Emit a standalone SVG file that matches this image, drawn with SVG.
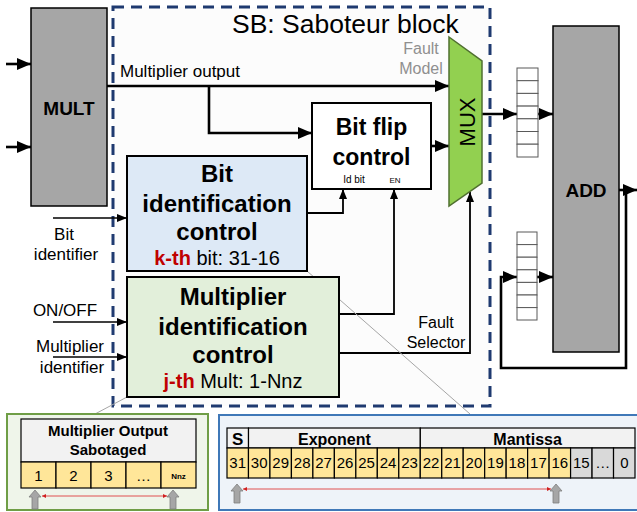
<svg xmlns="http://www.w3.org/2000/svg" width="637" height="512" viewBox="0 0 637 512">
  <style>
    text { font-family: "Liberation Sans", Arial, sans-serif; fill: #000; }
    .b { font-weight: bold; }
    .mid { text-anchor: middle; }
    .thick { fill: none; stroke: #000; stroke-width: 2.6; }
    .med { fill: none; stroke: #000; stroke-width: 1.8; }
    .thin { fill: none; stroke: #000; stroke-width: 1.5; }
    .reg { fill: #fff; stroke: #595959; stroke-width: 1; }
    .cellY { fill: #ffe699; stroke: #000; stroke-width: 1.2; }
    .cellG { fill: #d9d9d9; stroke: #000; stroke-width: 1.2; }
    .head { fill: #f2f2f2; stroke: #000; stroke-width: 1.2; }
    .gray-arrow { fill: #a6a6a6; stroke: #7f7f7f; stroke-width: 0.8; }
    .range { stroke: #e05050; stroke-width: 1; fill: none; }
    .zoomline { stroke: #a6a6a6; stroke-width: 1; fill: none; }
  </style>
  <defs>
    <marker id="big" markerUnits="userSpaceOnUse" markerWidth="14" markerHeight="12" refX="14" refY="6" orient="auto">
      <path d="M0,0 L14,6 L0,12 z" fill="#000"/>
    </marker>
    <marker id="small" markerUnits="userSpaceOnUse" markerWidth="10" markerHeight="8" refX="10" refY="4" orient="auto">
      <path d="M0,0 L10,4 L0,8 z" fill="#000"/>
    </marker>
    <marker id="red" markerUnits="userSpaceOnUse" markerWidth="4" markerHeight="4" refX="4" refY="2" orient="auto-start-reverse">
      <path d="M0,0 L4,2 L0,4 z" fill="#d02020"/>
    </marker>
  </defs>

  <rect width="637" height="512" fill="#fff"/>

  <!-- Saboteur block boundary -->
  <g id="sb-block">
    <rect x="113" y="7" width="377" height="399" fill="#fcfcfc" stroke="#1f3a70" stroke-width="3" stroke-dasharray="11 7"/>
    <text x="232" y="32.5" font-size="26.5">SB: Saboteur block</text>
  </g>

  <!-- Connectors -->
  <g id="connectors">
    <!-- multiplier inputs -->
    <path class="thick" d="M6,64 H31" marker-end="url(#big)"/>
    <path class="thick" d="M6,147 H31" marker-end="url(#big)"/>
    <!-- multiplier output to MUX and to bit flip control -->
    <path class="thick" d="M107,86 H449" marker-end="url(#big)"/>
    <path class="thick" d="M209,86 V133 H312" marker-end="url(#big)"/>
    <!-- bit flip control to MUX -->
    <path class="thick" d="M431,146 H449" marker-end="url(#big)"/>
    <!-- control signals -->
    <path class="med" d="M307,213 H343 V189" marker-end="url(#small)"/>
    <path class="med" d="M339,314 H394 V189" marker-end="url(#small)"/>
    <path class="med" d="M339,353 H470 V192" marker-end="url(#small)"/>
    <!-- external inputs -->
    <path class="thin" d="M53,218 H127" marker-end="url(#small)"/>
    <path class="thin" d="M53,322 H127" marker-end="url(#small)"/>
    <path class="thin" d="M53,357 H127" marker-end="url(#small)"/>
    <!-- MUX to adder path -->
    <path class="thick" d="M482,114 H517" marker-end="url(#big)"/>
    <path class="thick" d="M538,114 H553" marker-end="url(#big)"/>
    <path class="thick" d="M537,277 H553" marker-end="url(#big)"/>
    <path class="thick" d="M619,190 H637" marker-end="url(#big)"/>
    <path class="thick" d="M626,190 V368 H501 V277 H517" marker-end="url(#big)"/>
    <!-- detail callout lines -->
    <path class="zoomline" d="M307,271 L470,414"/>
    <path class="zoomline" d="M127,397 L95,414"/>
  </g>

  <!-- Multiplier -->
  <g id="mult">
    <rect x="31" y="8" width="76" height="198" fill="#a6a6a6" stroke="#000" stroke-width="1.5"/>
    <text class="b mid" x="69" y="115" font-size="19">MULT</text>
  </g>

  <!-- Bit flip control -->
  <g id="bit-flip-control">
    <rect x="312" y="103" width="119" height="86" fill="#fff" stroke="#000" stroke-width="2"/>
    <text class="b mid" x="371.5" y="135" font-size="23">Bit flip</text>
    <text class="b mid" x="371.5" y="165" font-size="23">control</text>
    <text class="mid" x="354" y="183" font-size="10">Id bit</text>
    <text class="mid" x="395" y="183" font-size="8">EN</text>
  </g>

  <!-- Fault model multiplexer -->
  <g id="mux">
    <path d="M449,37 L482,61 L482,183 L449,206 z" fill="#92d050" stroke="#4f6f2f" stroke-width="1.5"/>
    <text class="mid" transform="translate(475,122) rotate(-90)" font-size="22">MUX</text>
    <text class="mid" x="421" y="54" font-size="16" style="fill:#8f8f8f">Fault</text>
    <text class="mid" x="421" y="74" font-size="16" style="fill:#8f8f8f">Model</text>
  </g>

  <!-- Bit identification control -->
  <g id="bit-identification-control">
    <rect x="127" y="156" width="180" height="115" fill="#dde9f6" stroke="#000" stroke-width="2"/>
    <text class="b mid" x="217" y="182" font-size="24">Bit</text>
    <text class="b mid" x="217" y="212" font-size="24">identification</text>
    <text class="b mid" x="217" y="240" font-size="24">control</text>
    <text class="mid" x="217" y="265" font-size="20"><tspan class="b" style="fill:#c00000">k-th</tspan> bit: 31-16</text>
  </g>

  <!-- Multiplier identification control -->
  <g id="multiplier-identification-control">
    <rect x="127" y="277" width="212" height="120" fill="#e2efda" stroke="#000" stroke-width="2"/>
    <text class="b mid" x="233" y="305" font-size="24">Multiplier</text>
    <text class="b mid" x="233" y="335" font-size="24">identification</text>
    <text class="b mid" x="233" y="363" font-size="24">control</text>
    <text class="mid" x="233" y="388" font-size="20"><tspan class="b" style="fill:#c00000">j-th</tspan> Mult: 1-Nnz</text>
  </g>

  <!-- Signal labels -->
  <g id="labels">
    <text x="120" y="77" font-size="17">Multiplier output</text>
    <text class="mid" x="64" y="240" font-size="17">Bit</text>
    <text class="mid" x="66" y="260" font-size="17">identifier</text>
    <text class="mid" x="65" y="316" font-size="17">ON/OFF</text>
    <text class="mid" x="70" y="352" font-size="17">Multiplier</text>
    <text class="mid" x="72" y="373" font-size="17">identifier</text>
    <text class="mid" x="436" y="328" font-size="16">Fault</text>
    <text class="mid" x="436" y="348" font-size="16">Selector</text>
  </g>

  <!-- Input registers of the adder -->
  <g id="register-a">
    <rect class="reg" x="517" y="68" width="21" height="12.7"/>
    <rect class="reg" x="517" y="80.7" width="21" height="12.7"/>
    <rect class="reg" x="517" y="93.4" width="21" height="12.7"/>
    <rect class="reg" x="517" y="106.1" width="21" height="12.7"/>
    <rect class="reg" x="517" y="118.8" width="21" height="12.7"/>
    <rect class="reg" x="517" y="131.5" width="21" height="12.7"/>
    <rect class="reg" x="517" y="144.2" width="21" height="12.8"/>
  </g>
  <g id="register-b">
    <rect class="reg" x="517" y="232" width="20" height="12.6"/>
    <rect class="reg" x="517" y="244.6" width="20" height="12.6"/>
    <rect class="reg" x="517" y="257.2" width="20" height="12.6"/>
    <rect class="reg" x="517" y="269.8" width="20" height="12.6"/>
    <rect class="reg" x="517" y="282.4" width="20" height="12.6"/>
    <rect class="reg" x="517" y="295" width="20" height="12.6"/>
    <rect class="reg" x="517" y="307.6" width="20" height="12.4"/>
  </g>

  <!-- Adder -->
  <g id="add">
    <rect x="553" y="26" width="66" height="326" fill="#a6a6a6" stroke="#000" stroke-width="1.5"/>
    <text class="b mid" x="586" y="197" font-size="19">ADD</text>
  </g>

  <!-- Sabotaged multiplier table -->
  <g id="multiplier-table">
    <rect x="7" y="414" width="201" height="96" fill="#eff5ea" stroke="#6f9e46" stroke-width="2"/>
    <rect class="head" x="21" y="419" width="175" height="43"/>
    <text class="b mid" x="108" y="436" font-size="15">Multiplier Output</text>
    <text class="b mid" x="108" y="455" font-size="15">Sabotaged</text>
    <rect class="cellY" x="21" y="462" width="35" height="26"/>
    <rect class="cellY" x="56" y="462" width="35" height="26"/>
    <rect class="cellY" x="91" y="462" width="35" height="26"/>
    <rect class="cellY" x="126" y="462" width="35" height="26"/>
    <rect class="cellY" x="161" y="462" width="35" height="26"/>
    <text class="mid" x="38.5" y="481" font-size="15">1</text>
    <text class="mid" x="73.5" y="481" font-size="15">2</text>
    <text class="mid" x="108.5" y="481" font-size="15">3</text>
    <text class="mid" x="143.5" y="481" font-size="15">…</text>
    <text class="b mid" x="178.5" y="479" font-size="8">Nnz</text>
    <path class="range" d="M42,496 H167" marker-start="url(#red)" marker-end="url(#red)"/>
    <polygon class="gray-arrow" points="32,509 38,509 38,497 41,497 35,490 29,497 32,497"/>
    <polygon class="gray-arrow" points="170,509 176,509 176,497 179,497 173,490 167,497 170,497"/>
  </g>

  <!-- Floating point format table -->
  <g id="bit-table">
    <rect x="219" y="415" width="430" height="95" fill="#eef3f9" stroke="#3f78b8" stroke-width="2"/>
    <rect class="head" x="227" y="428" width="21.5" height="20"/>
    <rect class="head" x="248.5" y="428" width="171.8" height="20"/>
    <rect class="head" x="420.3" y="428" width="214.7" height="20"/>
    <text class="b mid" x="237.7" y="445" font-size="17">S</text>
    <text class="b mid" x="334.4" y="445" font-size="16">Exponent</text>
    <text class="b mid" x="527.6" y="445" font-size="16">Mantissa</text>

    <rect class="cellY" x="227" y="448" width="21.47" height="30"/>
    <rect class="cellY" x="248.47" y="448" width="21.47" height="30"/>
    <rect class="cellY" x="269.95" y="448" width="21.47" height="30"/>
    <rect class="cellY" x="291.42" y="448" width="21.47" height="30"/>
    <rect class="cellY" x="312.89" y="448" width="21.47" height="30"/>
    <rect class="cellY" x="334.37" y="448" width="21.47" height="30"/>
    <rect class="cellY" x="355.84" y="448" width="21.47" height="30"/>
    <rect class="cellY" x="377.32" y="448" width="21.47" height="30"/>
    <rect class="cellY" x="398.79" y="448" width="21.47" height="30"/>
    <rect class="cellY" x="420.26" y="448" width="21.47" height="30"/>
    <rect class="cellY" x="441.74" y="448" width="21.47" height="30"/>
    <rect class="cellY" x="463.21" y="448" width="21.47" height="30"/>
    <rect class="cellY" x="484.68" y="448" width="21.47" height="30"/>
    <rect class="cellY" x="506.16" y="448" width="21.47" height="30"/>
    <rect class="cellY" x="527.63" y="448" width="21.47" height="30"/>
    <rect class="cellY" x="549.11" y="448" width="21.47" height="30"/>
    <rect class="cellG" x="570.58" y="448" width="21.47" height="30"/>
    <rect class="cellG" x="592.05" y="448" width="21.47" height="30"/>
    <rect class="cellG" x="613.53" y="448" width="21.47" height="30"/>

    <g font-size="15" text-anchor="middle">
      <text x="237.7" y="468">31</text>
      <text x="259.2" y="468">30</text>
      <text x="280.7" y="468">29</text>
      <text x="302.2" y="468">28</text>
      <text x="323.6" y="468">27</text>
      <text x="345.1" y="468">26</text>
      <text x="366.6" y="468">25</text>
      <text x="388.1" y="468">24</text>
      <text x="409.5" y="468">23</text>
      <text x="431.0" y="468">22</text>
      <text x="452.5" y="468">21</text>
      <text x="473.9" y="468">20</text>
      <text x="495.4" y="468">19</text>
      <text x="516.9" y="468">18</text>
      <text x="538.4" y="468">17</text>
      <text x="559.8" y="468">16</text>
      <text x="581.3" y="468">15</text>
      <text x="602.8" y="468">…</text>
      <text x="624.3" y="468">0</text>
    </g>
    <path class="range" d="M243,489 H551" marker-start="url(#red)" marker-end="url(#red)"/>
    <polygon class="gray-arrow" points="234,503 240,503 240,491 243,491 237,484 231,491 234,491"/>
    <polygon class="gray-arrow" points="553,503 559,503 559,491 562,491 556,484 550,491 553,491"/>
  </g>
</svg>
